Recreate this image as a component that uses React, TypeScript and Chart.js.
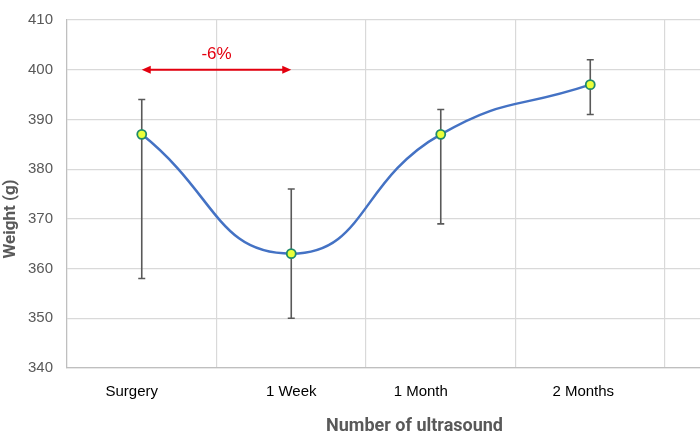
import React, { useEffect, useRef } from "react";
import { Chart, registerables } from "chart.js";

Chart.register(...registerables);

const categories = ["Surgery", "1 Week", "1 Month", "2 Months"];
const weights = [387, 363, 387, 397];
const errLow = [358, 350, 369, 391];
const errHigh = [394, 376, 392, 402];
const yTicks = [340, 350, 360, 370, 380, 390, 400, 410];
const arrowFrom = 0;
const arrowTo = 1;
const arrowY = 400;
const arrowLabel = "-6%";
const xTitle = "Number of ultrasound";
const yTitle = "Weight (g)";

// label horizontal shifts (px) relative to each category tick, as seen in the source
const labelShift = [-10, 0, -20, -7];

const errorBarPlugin = {
  id: "errorBars",
  beforeDatasetsDraw(chart: any) {
    const { ctx, scales } = chart;
    const xs = scales.x;
    const ys = scales.y;
    ctx.save();
    ctx.strokeStyle = "#595959";
    ctx.lineWidth = 1.6;
    for (let i = 0; i < weights.length; i++) {
      const x = xs.getPixelForValue(i);
      const y1 = ys.getPixelForValue(errLow[i]);
      const y2 = ys.getPixelForValue(errHigh[i]);
      ctx.beginPath();
      ctx.moveTo(x, y1);
      ctx.lineTo(x, y2);
      ctx.moveTo(x - 3.5, y1);
      ctx.lineTo(x + 3.5, y1);
      ctx.moveTo(x - 3.5, y2);
      ctx.lineTo(x + 3.5, y2);
      ctx.stroke();
    }
    ctx.restore();
  },
};

const textPlugin = {
  id: "texts",
  afterDraw(chart: any) {
    const { ctx, scales, chartArea } = chart;
    ctx.save();
    ctx.fillStyle = "#000000";
    ctx.font = "15px 'Liberation Sans', Arial, sans-serif";
    ctx.textAlign = "center";
    ctx.textBaseline = "middle";
    categories.forEach((c, i) => {
      ctx.fillText(c, scales.x.getPixelForValue(i) + labelShift[i], chartArea.bottom + 24);
    });
    ctx.fillStyle = "#595959";
    ctx.font = "bold 18px 'Liberation Sans Narrow', 'Roboto', sans-serif";
    ctx.fillText(xTitle, (chartArea.left + chartArea.right) / 2 + 31, chartArea.bottom + 58);
    ctx.save();
    ctx.translate(11, (chartArea.top + chartArea.bottom) / 2 + 25);
    ctx.rotate(-Math.PI / 2);
    ctx.font = "bold 17px 'Liberation Sans Narrow', 'Roboto', sans-serif";
    ctx.fillText(yTitle, 0, 0);
    ctx.restore();
    ctx.restore();
  },
};

const arrowPlugin = {
  id: "arrowAnno",
  afterDatasetsDraw(chart: any) {
    const { ctx, scales } = chart;
    const x1 = scales.x.getPixelForValue(arrowFrom);
    const x2 = scales.x.getPixelForValue(arrowTo);
    const y = scales.y.getPixelForValue(arrowY);
    ctx.save();
    ctx.strokeStyle = "#e3000f";
    ctx.fillStyle = "#e3000f";
    ctx.lineWidth = 2;
    ctx.beginPath();
    ctx.moveTo(x1 + 6, y);
    ctx.lineTo(x2 - 6, y);
    ctx.stroke();
    const head = (tx: number, dir: number) => {
      ctx.beginPath();
      ctx.moveTo(tx, y);
      ctx.lineTo(tx - dir * 9, y - 4);
      ctx.lineTo(tx - dir * 9, y + 4);
      ctx.closePath();
      ctx.fill();
    };
    head(x1, -1);
    head(x2, 1);
    ctx.font = "17px 'Liberation Sans', Arial, sans-serif";
    ctx.textAlign = "center";
    ctx.textBaseline = "middle";
    ctx.fillText(arrowLabel, (x1 + x2) / 2, y - 15);
    ctx.restore();
  },
};

export default function App() {
  const ref = useRef<HTMLCanvasElement | null>(null);
  useEffect(() => {
    document.body.style.margin = "0";
    const canvas = ref.current!;
    const chart = new Chart(canvas, {
      type: "line",
      data: {
        datasets: [
          {
            data: weights.map((v, i) => ({ x: i, y: v })),
            borderColor: "#4472c4",
            borderWidth: 2.5,
            tension: 0.5,
            pointRadius: 4.5,
            pointBackgroundColor: "#eaff3a",
            pointBorderColor: "#1f8a6a",
            pointBorderWidth: 1.8,
            fill: false,
          },
        ],
      },
      options: {
        animation: false,
        responsive: false,
        layout: { autoPadding: false, padding: { top: 20, right: 0, left: 0, bottom: 0 } },
        plugins: {
          legend: { display: false },
          tooltip: { enabled: false },
        },
        scales: {
          x: {
            type: "linear",
            min: -0.5,
            max: 3.734,
            afterBuildTicks(scale: any) {
              const t = [];
              for (let v = -0.5; v <= 3.5; v += 1) t.push({ value: v });
              scale.ticks = t;
            },
            afterFit(scale: any) {
              scale.height = 80;
              scale.paddingLeft = 0;
              scale.paddingRight = 0;
            },
            grid: { drawTicks: false, color: "#d9d9d9", lineWidth: 1.2 },
            border: { color: "#bfbfbf", width: 1.2 },
            ticks: { display: false },
          },
          y: {
            min: 340,
            max: 410,
            afterBuildTicks(scale: any) {
              scale.ticks = yTicks.map((v) => ({ value: v }));
            },
            afterFit(scale: any) {
              scale.width = 67;
              scale.paddingTop = 0;
              scale.paddingBottom = 0;
            },
            grid: { drawTicks: false, color: "#d9d9d9", lineWidth: 1.2 },
            border: { color: "#bfbfbf", width: 1.2 },
            ticks: {
              padding: 14,
              color: "#595959",
              font: { family: "'Liberation Sans', Arial, sans-serif", size: 15 },
            },
          },
        },
      },
      plugins: [errorBarPlugin, arrowPlugin, textPlugin],
    });
    return () => chart.destroy();
  }, []);
  return (
    <div style={{ position: "absolute", left: 0, top: 0, width: 700, height: 448, background: "#fff" }}>
      <canvas ref={ref} width={700} height={448} />
    </div>
  );
}
